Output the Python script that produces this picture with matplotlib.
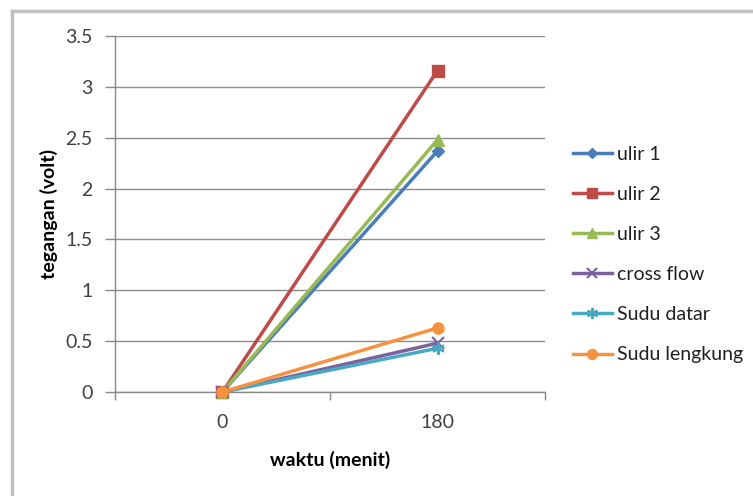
import matplotlib.pyplot as plt
from matplotlib.lines import Line2D

# data
waktu = ["0", "180"]
ulir_1 = [0, 2.37]
ulir_2 = [0, 3.16]
ulir_3 = [0, 2.48]
cross_flow = [0, 0.48]
sudu_datar = [0, 0.43]
sudu_lengkung = [0, 0.63]

series = [
    ("ulir 1", ulir_1, "#4A7EBB", "D", 6),
    ("ulir 2", ulir_2, "#BE4B48", "s", 8),
    ("ulir 3", ulir_3, "#98B954", "^", 8),
    ("cross flow", cross_flow, "#7D60A0", "x", 8),
    ("Sudu datar", sudu_datar, "#46AAC5", (6, 2, 0), 9),
    ("Sudu lengkung", sudu_lengkung, "#F69240", "o", 8),
]

plt.rcParams["font.family"] = ["Lato", "DejaVu Sans"]

fig = plt.figure(figsize=(7.53, 4.96), dpi=100)
ax = fig.add_axes([0.1527, 0.2097, 0.5711, 0.7177])

x = list(range(len(waktu)))
for name, vals, col, mk, ms in series:
    ax.plot(x, vals, color=col, lw=2.5, marker=mk, markersize=ms,
            markeredgewidth=1.5 if mk in ("x", (6, 2, 0)) else 1,
            markeredgecolor=col, markerfacecolor=col, label=name,
            clip_on=False, zorder=3)

ax.set_xlim(-0.5, 1.5)
ax.set_ylim(0, 3.5)
ax.set_yticks([i * 0.5 for i in range(8)])
ax.set_yticklabels(["0", "0.5", "1", "1.5", "2", "2.5", "3", "3.5"])
ax.set_xticks(x)
ax.set_xticklabels(waktu)
ax.set_xticks([-0.5, 0.5, 1.5], minor=True)
ax.tick_params(axis="x", which="major", length=0, pad=16, labelsize=14, colors="#404040")
ax.tick_params(axis="x", which="minor", length=6, color="#888888", width=1)
ax.tick_params(axis="y", length=7, color="#888888", width=1, pad=9, labelsize=14, labelcolor="#404040")

ax.grid(axis="y", color="#8c8c8c", lw=1)
ax.set_axisbelow(True)
for s in ["top", "right"]:
    ax.spines[s].set_visible(False)
for s in ["left", "bottom"]:
    ax.spines[s].set_color("#888888")
    ax.spines[s].set_linewidth(1)

ax.set_ylabel("tegangan (volt)", fontsize=14, fontweight="bold", labelpad=5)
ax.set_xlabel("waktu (menit)", fontsize=14, fontweight="bold", labelpad=14)

leg = ax.legend(loc="center left", bbox_to_anchor=(1.065, 0.386), frameon=False,
                borderaxespad=0, borderpad=0,
                labelspacing=1.19, handlelength=2.0, handletextpad=0.25,
                fontsize=14, markerscale=0.9)
for t in leg.get_texts():
    t.set_color("#202020")

# outer chart border (top and left only are inside the crop)
fig.add_artist(Line2D([12 / 753, 12 / 753], [0, 1 - 11 / 496], transform=fig.transFigure,
                      color="#c0c0c0", lw=2.5))
fig.add_artist(Line2D([12 / 753, 1], [1 - 11 / 496, 1 - 11 / 496], transform=fig.transFigure,
                      color="#c0c0c0", lw=2.5))

fig.savefig("out.png", dpi=100)
